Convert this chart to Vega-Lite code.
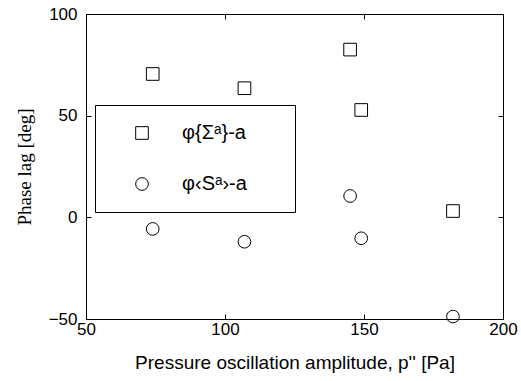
{
  "$schema": "https://vega.github.io/schema/vega-lite/v6.json",
  "width": 417,
  "height": 305,
  "autosize": {"type": "none"},
  "padding": {"left": 86, "top": 14, "right": 18, "bottom": 62},
  "background": "white",
  "config": {
    "view": {"stroke": "black", "strokeWidth": 1},
    "axis": {
      "grid": false,
      "domain": false,
      "tickColor": "black",
      "tickSize": -5,
      "labelFlush": false,
      "labelColor": "black",
      "labelFont": "Liberation Sans",
      "labelFontSize": 17,
      "titleColor": "black"
    }
  },
  "data": {
    "values": [
      {"amplitude": 74, "phase": 70.5, "series": "φ{Σᵃ}-a"},
      {"amplitude": 107, "phase": 63.5, "series": "φ{Σᵃ}-a"},
      {"amplitude": 145, "phase": 82.5, "series": "φ{Σᵃ}-a"},
      {"amplitude": 149, "phase": 52.8, "series": "φ{Σᵃ}-a"},
      {"amplitude": 182, "phase": 3.1, "series": "φ{Σᵃ}-a"},
      {"amplitude": 74, "phase": -5.7, "series": "φ‹Sᵃ›-a"},
      {"amplitude": 107, "phase": -12, "series": "φ‹Sᵃ›-a"},
      {"amplitude": 145, "phase": 10.5, "series": "φ‹Sᵃ›-a"},
      {"amplitude": 149, "phase": -10.3, "series": "φ‹Sᵃ›-a"},
      {"amplitude": 182, "phase": -48.8, "series": "φ‹Sᵃ›-a"}
    ]
  },
  "layer": [
    {
      "mark": {"type": "point", "filled": false, "color": "black", "opacity": 1, "strokeWidth": 1, "size": 160},
      "encoding": {
        "x": {
          "field": "amplitude", "type": "quantitative",
          "scale": {"domain": [50, 200], "nice": false, "zero": false},
          "axis": {
            "orient": "bottom", "values": [50, 100, 150, 200],
            "title": "Pressure oscillation amplitude, p'' [Pa]",
            "titleFont": "Liberation Sans", "titleFontSize": 19, "titleFontWeight": "normal",
            "labelPadding": 7, "titlePadding": 16
          }
        },
        "y": {
          "field": "phase", "type": "quantitative",
          "scale": {"domain": [-50, 100], "nice": false, "zero": false},
          "axis": {
            "orient": "left", "values": [-50, 0, 50, 100],
            "title": "Phase lag [deg]",
            "titleFont": "Liberation Serif", "titleFontSize": 19, "titleFontWeight": "normal",
            "labelPadding": 14, "titlePadding": 14
          }
        },
        "shape": {
          "field": "series", "type": "nominal",
          "scale": {"domain": ["φ{Σᵃ}-a", "φ‹Sᵃ›-a"], "range": ["square", "circle"]},
          "legend": {
            "orient": "none", "legendX": 9, "legendY": 91, "title": null,
            "strokeColor": "black", "fillColor": "white", "padding": 18,
            "rowPadding": 31, "symbolOffset": 19, "labelOffset": 30,
            "labelFont": "Liberation Sans", "labelFontSize": 20, "labelColor": "black",
            "symbolSize": 160, "symbolStrokeColor": "black", "symbolStrokeWidth": 1,
            "symbolFillColor": "transparent",
            "labelExpr": "datum.label + '\u2800\u2800'"
          }
        }
      }
    },
    {
      "mark": {"type": "point", "opacity": 0, "size": 1},
      "encoding": {
        "x": {
          "field": "amplitude", "type": "quantitative",
          "scale": {"domain": [50, 200], "nice": false, "zero": false},
          "axis": {"orient": "top", "values": [50, 100, 150, 200], "labels": false, "title": null}
        },
        "y": {
          "field": "phase", "type": "quantitative",
          "scale": {"domain": [-50, 100], "nice": false, "zero": false},
          "axis": {"orient": "right", "values": [-50, 0, 50, 100], "labels": false, "title": null}
        }
      }
    }
  ]
}
